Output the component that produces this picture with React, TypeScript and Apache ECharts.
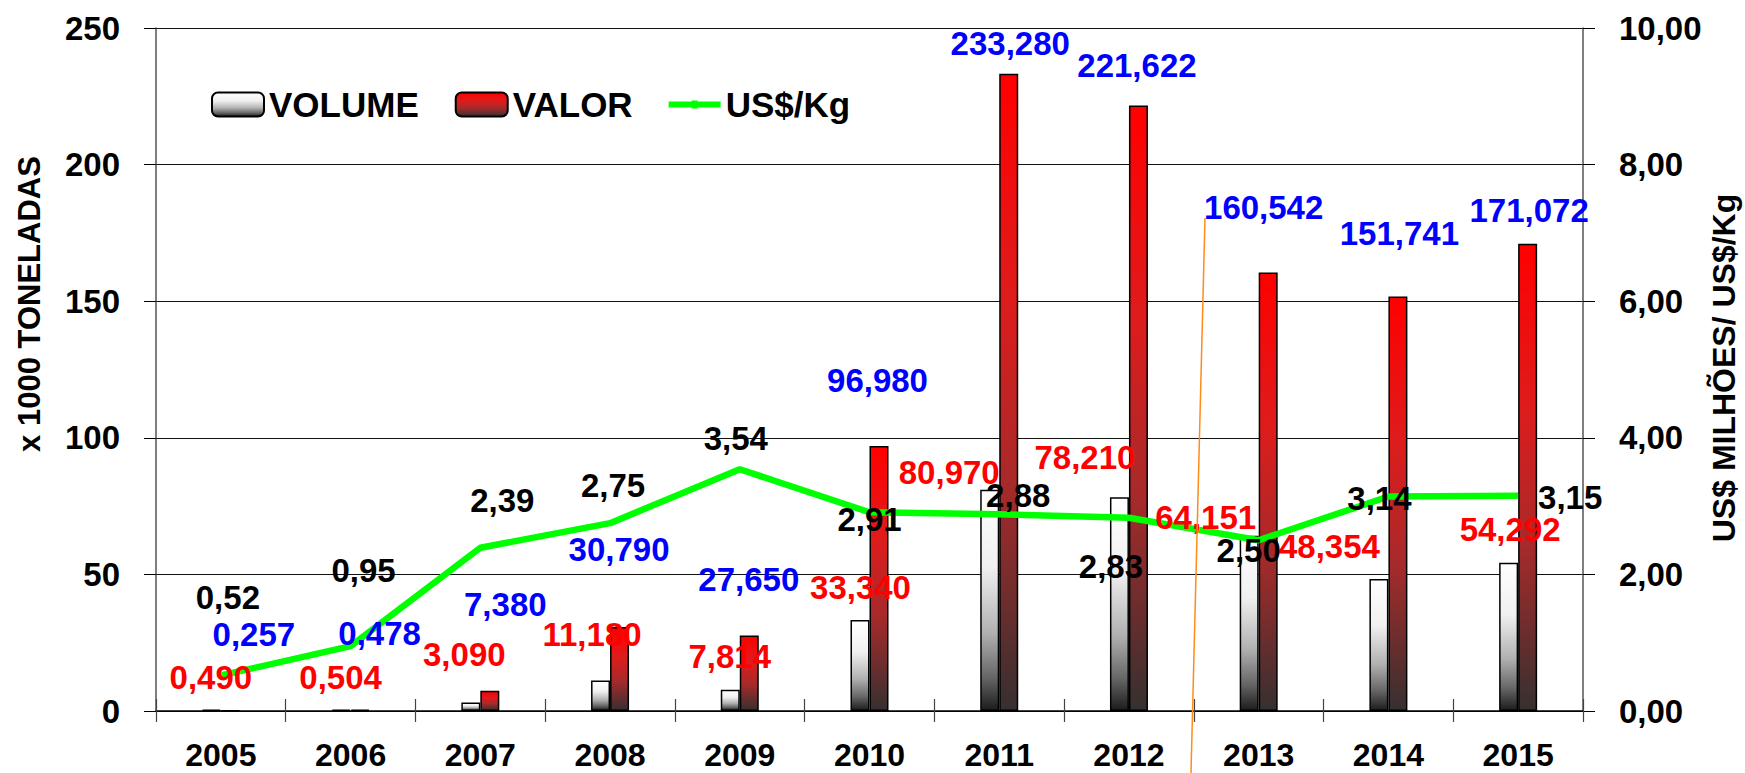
import React, { useEffect, useRef } from "react";
import * as echarts from "echarts";

const categories = ["2005", "2006", "2007", "2008", "2009", "2010", "2011", "2012", "2013", "2014", "2015"];
const volume = [0.49, 0.504, 3.09, 11.18, 7.814, 33.34, 80.97, 78.21, 64.151, 48.354, 54.292];
const valor = [0.257, 0.478, 7.38, 30.79, 27.65, 96.98, 233.28, 221.622, 160.542, 151.741, 171.072];
const price = [0.52, 0.95, 2.39, 2.75, 3.54, 2.91, 2.88, 2.83, 2.5, 3.14, 3.15];

const leftAxisRange = { min: 0, max: 250, interval: 50 };
const rightAxisRange = { min: 0, max: 10, interval: 2 };

// label offsets (px) relative to each data point
const valorOffsets = [[33, -76], [29, -76], [25, -86], [9, -77], [9, -56], [8, -66], [11, -30], [8, -40], [5, -65], [11, -63], [11, -33]];
const volumeOffsets = [[-10, -32], [-10, -32], [-16, -48], [-18, -46], [-10, -33], [-9, -32], [-50, -17], [-44, -40], [-53, -18], [-59, -32], [-8, -33]];
const priceOffsets = [[7, -78], [13, -76], [22, -47], [3, -38], [-4, -31], [0, 7], [19, -19], [-18, 49], [-10, 10], [-9, 2], [52, 2]];

const FONT = "'Liberation Sans', Arial, sans-serif";

const fmt = (v: number, d: number) => v.toFixed(d).replace(".", ",");

function labelSeries(name: string, values: number[], offsets: number[][], axis: number, color: string, dec: number) {
  return {
    name,
    type: "scatter",
    yAxisIndex: axis,
    symbolSize: 1,
    silent: true,
    z: 20,
    itemStyle: { color: "rgba(0,0,0,0)", opacity: 1 },
    data: values.map((v, i) => ({
      value: [i, v],
      label: { offset: offsets[i] },
    })),
    label: {
      show: true,
      position: "inside",
      align: "center",
      verticalAlign: "middle",
      formatter: (p: any) => fmt(p.value[1], dec),
      color,
      opacity: 1,
      fontFamily: FONT,
      fontWeight: "bold",
      fontSize: 33,
    },
  };
}

export default function App() {
  const ref = useRef<HTMLDivElement>(null);
  useEffect(() => {
    document.body.style.margin = "0";
    const chart = echarts.init(ref.current!, null, { renderer: "svg" });
    const volGrad = new echarts.graphic.LinearGradient(0, 0, 0, 1, [
      { offset: 0, color: "#ffffff" },
      { offset: 0.35, color: "#f0f0f0" },
      { offset: 0.65, color: "#b0b0b0" },
      { offset: 0.85, color: "#666666" },
      { offset: 1, color: "#1c1c1c" },
    ]);
    const valGrad = new echarts.graphic.LinearGradient(0, 0, 0, 1, [
      { offset: 0, color: "#ff0000" },
      { offset: 0.35, color: "#de1c1c" },
      { offset: 0.65, color: "#a62a2a" },
      { offset: 1, color: "#363030" },
    ]);
    const tickFont = { fontFamily: FONT, fontWeight: "bold", fontSize: 33, color: "#000" };
    chart.setOption({
      animation: false,
      backgroundColor: "#fff",
      grid: { left: 156, right: 162, top: 28, bottom: 62, containLabel: false },
      legend: {
        data: [
          "VOLUME",
          "VALOR",
          { name: "US$/Kg", icon: "path://M0,1H23V0H29V1H52V7H29V8H23V7H0Z" },
        ],
        left: 211,
        top: 87,
        padding: 0,
        itemWidth: 52,
        itemHeight: 24,
        itemGap: 36,
        textStyle: { fontFamily: FONT, fontWeight: "bold", fontSize: 35, color: "#000", padding: [0, 0, 0, 0] },
      },
      xAxis: [
        {
          type: "category",
          data: categories,
          position: "bottom",
          axisLine: { lineStyle: { color: "#000", width: 1.5 } },
          axisTick: { show: true, length: 11, lineStyle: { color: "#444", width: 1.2 } },
          axisLabel: { ...tickFont, fontSize: 32, margin: 33, lineHeight: 22 },
        },
        {
          type: "category",
          data: categories,
          position: "bottom",
          axisLine: { show: false },
          axisTick: { show: true, inside: true, length: 12, lineStyle: { color: "#444", width: 1.2 } },
          axisLabel: { show: false },
        },
      ],
      yAxis: [
        {
          type: "value",
          ...leftAxisRange,
          position: "left",
          axisLine: { show: true, lineStyle: { color: "#555", width: 1.5 } },
          axisTick: { show: true, length: 12, lineStyle: { color: "#000", width: 1 } },
          splitLine: { show: true, lineStyle: { color: "#111", width: 1 } },
          axisLabel: { ...tickFont, margin: 36 },
        },
        {
          type: "value",
          ...rightAxisRange,
          position: "right",
          axisLine: { show: true, lineStyle: { color: "#555", width: 1.5 } },
          axisTick: { show: true, length: 12, lineStyle: { color: "#000", width: 1 } },
          splitLine: { show: false },
          axisLabel: { ...tickFont, margin: 36, formatter: (v: number) => fmt(v, 2) },
        },
      ],
      series: [
        {
          name: "VOLUME",
          type: "bar",
          yAxisIndex: 0,
          barWidth: 19,
          barGap: "0%",
          data: volume,
          itemStyle: { color: volGrad, borderColor: "#000", borderWidth: 1.5 },
          z: 3,
        },
        {
          name: "VALOR",
          type: "bar",
          yAxisIndex: 0,
          barWidth: 19,
          barGap: "0%",
          data: valor,
          itemStyle: { color: valGrad, borderColor: "#000", borderWidth: 1.5 },
          z: 3,
        },
        {
          name: "US$/Kg",
          type: "line",
          yAxisIndex: 1,
          data: price,
          symbol: "none",
          lineStyle: { color: "#00ff00", width: 6.5 },
          itemStyle: { color: "#00ff00" },
          z: 5,
        },
        labelSeries("lblValor", valor, valorOffsets, 0, "#0000ff", 3),
        labelSeries("lblVolume", volume, volumeOffsets, 0, "#ff0000", 3),
        labelSeries("lblPrice", price, priceOffsets, 1, "#000000", 2),
      ],
      graphic: [
        {
          type: "text",
          x: 29,
          y: 304,
          rotation: Math.PI / 2,
          style: {
            text: "x 1000 TONELADAS",
            font: `bold 31px ${FONT}`,
            fill: "#000",
            align: "center",
            verticalAlign: "middle",
          },
        },
        {
          type: "text",
          x: 1724,
          y: 368,
          rotation: Math.PI / 2,
          style: {
            text: "US$ MILHÕES/ US$/Kg",
            font: `bold 32px ${FONT}`,
            fill: "#000",
            align: "center",
            verticalAlign: "middle",
          },
        },
        {
          type: "line",
          z: 30,
          shape: { x1: 1205, y1: 218, x2: 1191, y2: 773 },
          style: { stroke: "#ff8c1a", lineWidth: 1.5 },
        },
      ],
    });
    return () => chart.dispose();
  }, []);
  return <div ref={ref} style={{ width: 1745, height: 773 }} />;
}
